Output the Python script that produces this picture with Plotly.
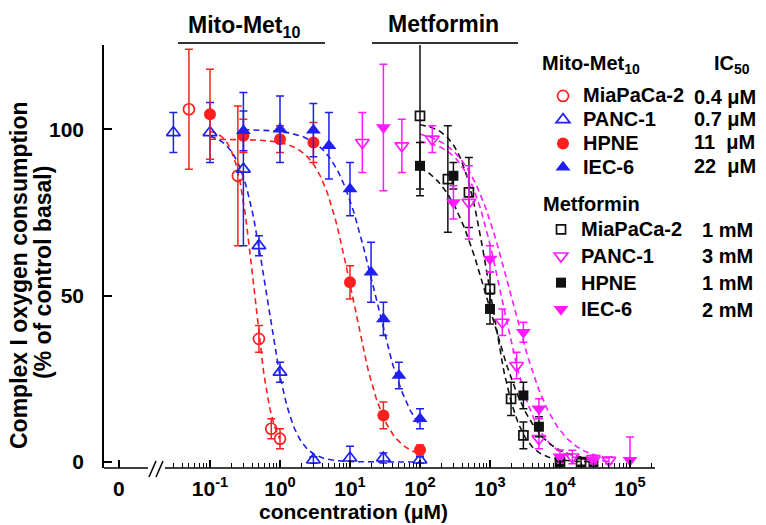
import numpy as np
import plotly.graph_objects as go

# ---------------- data ----------------
# Mito-Met10, concentration in µM, response in % of control basal
mm_mia_x = [0.05, 0.25, 0.5, 0.75, 1.0]
mm_mia_y = [106, 86, 37, 10, 7]
mm_mia_e = [18, 21, 4, 3, 3]

mm_panc_x = [0.03, 0.1, 0.3, 0.5, 1, 3, 10, 30, 100]
mm_panc_y = [99, 99, 88, 65, 27, 0.6, 1.2, 1.2, 0.6]
mm_panc_e = [6, 9, 23, 3, 3, 1, 3.5, 1.5, 1]

mm_hpne_x = [0.1, 0.3, 1, 3, 10, 30, 100]
mm_hpne_y = [104.5, 98, 97, 96, 54, 14, 3.6]
mm_hpne_e = [13.5, 5, 4, 6, 5, 4, 1.5]

mm_iec_x = [0.3, 1, 3, 5, 10, 20, 30, 50, 100]
mm_iec_y = [99.5, 100, 99.7, 95, 82, 57, 43, 26, 13]
mm_iec_e = [6, 10, 8, 10, 8, 9, 5, 4, 3]

# Metformin, concentration in µM
mf_mia_x = [100, 250, 500, 1000, 2000, 3000, 10000, 20000]
mf_mia_y = [104, 85, 81, 52, 19, 8, 0, 0]
mf_mia_e = [24, 16, 10.5, 5, 5, 4, 1, 1]

mf_panc_x = [15, 55, 150, 500, 1500, 2400, 5000, 15000, 30000, 50000]
mf_panc_y = [96, 95, 97, 78, 42, 29, 7, 1.5, 1, 0.5]
mf_panc_e = [9, 8, 4, 11, 4, 4, 3, 2, 1, 1]

mf_hpne_x = [100, 300, 1000, 3000, 5000, 10000, 30000]
mf_hpne_y = [89, 86, 46, 20, 10.6, 0.5, 0]
mf_hpne_e = [7, 4, 4.5, 4, 3, 1, 1]

mf_iec_x = [30, 300, 1000, 3000, 5000, 10000, 30000, 100000]
mf_iec_y = [100.5, 78, 61, 39, 16, 1.6, 0.5, 0.5]
mf_iec_e = [19, 5, 4, 3, 3, 2, 1, 7]

# fitted dose-response parameters: top, bottom, IC50 (µM), Hill slope, x span
fit_mm_mia = (100, 2, 0.43, 3.5, 0.1, 1.0)
fit_mm_panc = (99, 0, 0.65, 2.4, 0.1, 100)
fit_mm_hpne = (97, 1, 11, 1.9, 0.1, 100)
fit_mm_iec = (100, 3, 22, 1.6, 0.3, 100)
fit_mf_mia = (102, 0, 1000, 2.2, 100, 30000)
fit_mf_panc = (97, 0, 1500, 1.8, 100, 50000)
fit_mf_hpne = (92, 0, 1000, 1.4, 100, 30000)
fit_mf_iec = (100, 0, 2000, 1.4, 100, 50000)

names = ["MiaPaCa-2", "PANC-1", "HPNE", "IEC-6"]
mm_ic50 = ["0.4 \u03bcM", "0.7 \u03bcM", "11\u00a0 \u03bcM", "22\u00a0 \u03bcM"]
mf_ic50 = ["1 mM", "3 mM", "1 mM", "2 mM"]

x_tickvals = [0.005, 0.1, 1, 10, 100, 1000, 10000, 100000]
x_ticktext = ["0", "10<sup>-1</sup>", "10<sup>0</sup>", "10<sup>1</sup>", "10<sup>2</sup>",
              "10<sup>3</sup>", "10<sup>4</sup>", "10<sup>5</sup>"]
y_tickvals = [0, 50, 100, 125]
y_ticktext = ["0", "50", "100", ""]

RED, BLUE, MAG, BLK = "#ff1f1f", "#1f1fef", "#ff1aff", "#111111"
FONT = "Liberation Sans, Arial, sans-serif"

# ---------------- figure ----------------
fig = go.Figure()


def curve(p, color):
    top, bot, ic50, n, x0, x1 = p
    xs = np.logspace(np.log10(x0), np.log10(x1), 120)
    ys = bot + (top - bot) / (1 + (xs / ic50) ** n)
    fig.add_trace(go.Scatter(x=xs, y=ys, mode="lines", showlegend=False, hoverinfo="skip",
                             line=dict(color=color, width=1.6, dash="6px,4px")))


def pts(x, y, e, name, color, symbol, size, leg, filled):
    fig.add_trace(go.Scatter(
        x=x, y=y, mode="markers", name='<span style="font-size:20px">%s</span>' % name,
        legend=leg,
        error_y=dict(type="data", array=e, visible=True, color=color, thickness=1.5, width=4),
        marker=dict(symbol=symbol, size=size, color=color,
                    line=dict(color=color, width=0 if filled else 1.7)),
        cliponaxis=False))


for p, c in [(fit_mm_mia, RED), (fit_mm_panc, BLUE), (fit_mm_hpne, RED), (fit_mm_iec, BLUE),
             (fit_mf_mia, BLK), (fit_mf_panc, MAG), (fit_mf_hpne, BLK), (fit_mf_iec, MAG)]:
    curve(p, c)

pts(mm_mia_x, mm_mia_y, mm_mia_e, names[0], RED, "circle-open", 11, "legend", False)
pts(mm_panc_x, mm_panc_y, mm_panc_e, names[1], BLUE, "triangle-up-open", 12, "legend", False)
pts(mm_hpne_x, mm_hpne_y, mm_hpne_e, names[2], RED, "circle", 12, "legend", True)
pts(mm_iec_x, mm_iec_y, mm_iec_e, names[3], BLUE, "triangle-up", 13, "legend", True)
pts(mf_mia_x, mf_mia_y, mf_mia_e, names[0], BLK, "square-open", 9, "legend2", False)
pts(mf_panc_x, mf_panc_y, mf_panc_e, names[1], MAG, "triangle-down-open", 12, "legend2", False)
pts(mf_hpne_x, mf_hpne_y, mf_hpne_e, names[2], BLK, "square", 10, "legend2", True)
pts(mf_iec_x, mf_iec_y, mf_iec_e, names[3], MAG, "triangle-down", 13, "legend2", True)

# pixel helpers for decorations (plot area 104..655 x 45..468)
L, R, T, B = 104, 655, 45, 468


def fx(px):
    return (px - L) / (R - L)


def fy(py):
    return (B - py) / (B - T)


minor_vals = [k * 10.0 ** e for e in range(-2, 6) for k in range(2, 10)]
minor_vals = [v for v in minor_vals if 0.029 < v < 210000]

fig.update_layout(
    width=766, height=525,
    margin=dict(l=L, r=766 - R, t=T, b=525 - B),
    paper_bgcolor="white", plot_bgcolor="white",
    font=dict(family=FONT, color="black", size=20, weight="bold"),
    xaxis=dict(type="log", range=[-1 + (L - 210) / 70.0, -1 + (R - 210) / 70.0],
               showline=False, showgrid=False, zeroline=False,
               tickmode="array", tickvals=x_tickvals, ticktext=x_ticktext,
               ticks="inside", ticklen=8, tickwidth=1.5, tickcolor="black",
               tickfont=dict(size=21, family=FONT, weight="bold"),
               ticklabelstandoff=6,
               minor=dict(tickmode="array", tickvals=minor_vals, ticks="inside",
                          ticklen=5, tickwidth=1.2, tickcolor="black", showgrid=False)),
    yaxis=dict(range=[-1.8, 125.3], showline=True, linecolor="black", linewidth=1.5,
               showgrid=False, zeroline=False,
               tickmode="array", tickvals=y_tickvals, ticktext=y_ticktext,
               ticks="inside", ticklen=8, tickwidth=1.5, tickcolor="black",
               tickfont=dict(size=21, family=FONT, weight="bold"), ticklabelstandoff=14),
    legend=dict(x=fx(543), y=fy(79), xanchor="left", yanchor="top",
                font=dict(size=16, family=FONT, weight="bold"), bgcolor="rgba(0,0,0,0)",
                itemwidth=30, tracegroupgap=0),
    legend2=dict(title=dict(text="Metformin", font=dict(size=20, family=FONT, weight="bold")),
                 x=fx(541), y=fy(185), xanchor="left", yanchor="top",
                 font=dict(size=18.2, family=FONT, weight="bold"), bgcolor="rgba(0,0,0,0)",
                 itemwidth=30, tracegroupgap=0),
)

shapes = []
# x axis line with a break
for a, b in [(L, 148), (165, R)]:
    shapes.append(dict(type="line", xref="paper", yref="paper", x0=fx(a), x1=fx(b), y0=0, y1=0,
                       line=dict(color="black", width=1.5)))
for a in (149, 156):
    shapes.append(dict(type="line", xref="paper", yref="paper", x0=fx(a), x1=fx(a + 7),
                       y0=fy(477), y1=fy(461), line=dict(color="black", width=1.5)))
# group bars at the top
for a, b in [(178, 325), (372, 518)]:
    shapes.append(dict(type="line", xref="paper", yref="paper", x0=fx(a), x1=fx(b),
                       y0=fy(43), y1=fy(43), line=dict(color="#333333", width=1.8)))
fig.update_layout(shapes=shapes)

ann = []
ann.append(dict(text="Mito-Met<sub>10</sub>", x=fx(244), y=fy(26), font=dict(size=23)))
ann.append(dict(text="Metformin", x=fx(443), y=fy(24), font=dict(size=23)))
ann.append(dict(text="Mito-Met<sub>10</sub>", x=fx(540), y=fy(65), xanchor="left", font=dict(size=20)))
ann.append(dict(text="IC<sub>50</sub>", x=fx(712), y=fy(65), xanchor="left", font=dict(size=20)))
for t, py in zip(mm_ic50, [97, 119, 142, 166]):
    ann.append(dict(text=t, x=fx(692), y=fy(py), xanchor="left", font=dict(size=20)))
for t, py in zip(mf_ic50, [230, 256, 283, 310]):
    ann.append(dict(text=t, x=fx(700), y=fy(py), xanchor="left", font=dict(size=20)))
ann.append(dict(text="concentration (\u03bcM)", x=fx(353), y=fy(512), font=dict(size=21)))
ann.append(dict(text="Complex I oxygen consumption", x=fx(19), y=fy(275),
                textangle=-90, font=dict(size=23)))
ann.append(dict(text="(% of control basal)", x=fx(43), y=fy(273),
                textangle=-90, font=dict(size=23)))
for a in ann:
    a.update(xref="paper", yref="paper", showarrow=False)
    a.setdefault("xanchor", "center")
    a["yanchor"] = "middle"
    a["font"] = dict(family=FONT, weight="bold", color="black", **a["font"])
fig.update_layout(annotations=ann)

fig.write_html("out.html")
